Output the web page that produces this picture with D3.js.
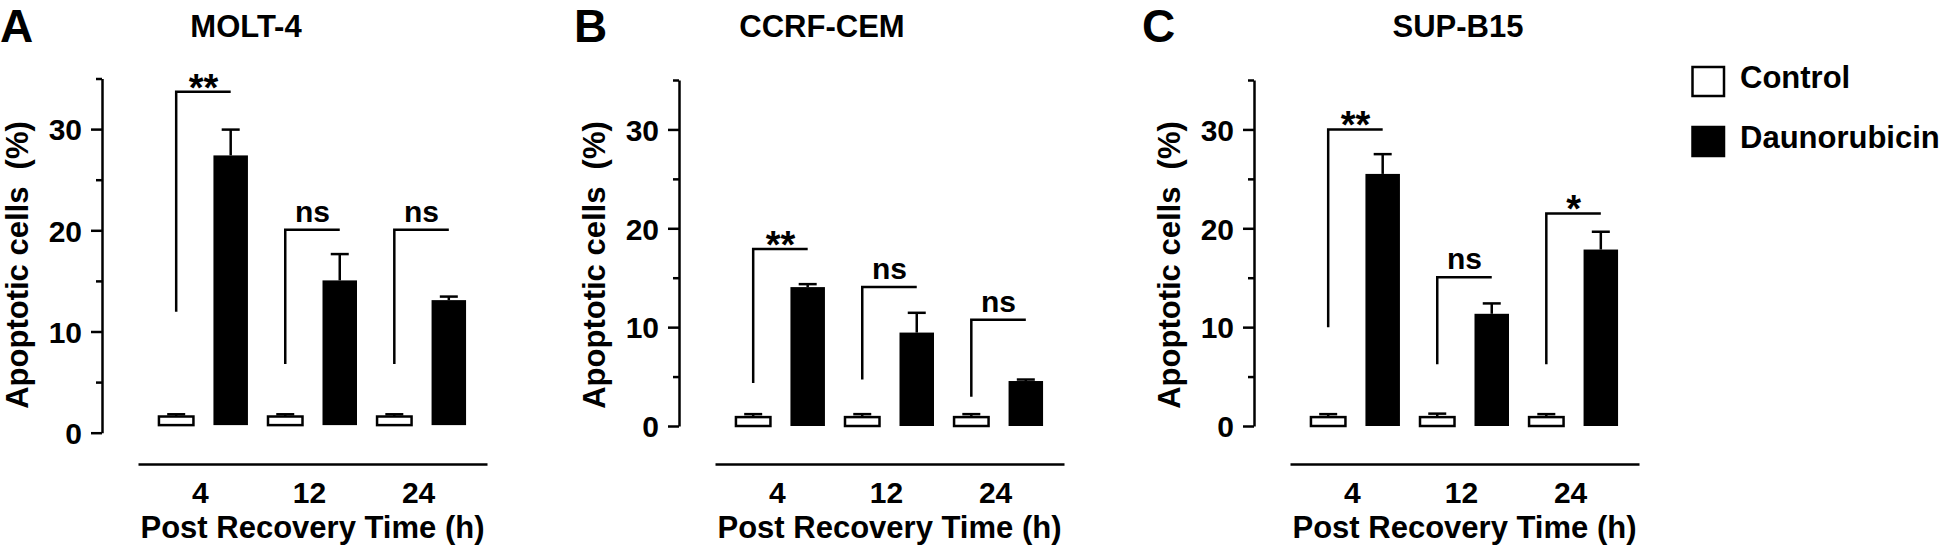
<!DOCTYPE html>
<html>
<head>
<meta charset="utf-8">
<title>Apoptotic cells after daunorubicin recovery</title>
<script src="https://d3js.org/d3.v7.min.js"></script>
<style>
  body { margin: 0; background: #fff; }
  svg { display: block; font-family: 'Liberation Sans', Arial, Helvetica, sans-serif; font-weight: bold; }
  .axis path, .axis line { stroke: #000; stroke-width: 2.5; }
  .axis text { font-family: 'Liberation Sans', Arial, sans-serif; font-weight: bold; font-size: 30px; fill: #000; }
</style>
</head>
<body>
<svg id="fig" width="1944" height="546"></svg>
<script>
// ---- data ----
const times = ["4", "12", "24"];
const series = ["Control", "Daunorubicin"];
const cellLines = ["MOLT-4", "CCRF-CEM", "SUP-B15"];
const panelLetters = ["A", "B", "C"];
const yMajorTicks = [0, 10, 20, 30];
const yMinorTicks = [5, 15, 25, 35];

// one row per panel, one value per time point
const controlMean = [[1.6, 1.6, 1.6], [0.9, 0.9, 0.9], [0.9, 0.9, 0.9]];
const controlErr  = [[0.22, 0.22, 0.22], [0.3, 0.3, 0.3], [0.3, 0.35, 0.3]];
const daunoMean   = [[27.4, 15.05, 13.1], [14.05, 9.45, 4.55], [25.5, 11.35, 17.85]];
const daunoErr    = [[2.55, 2.6, 0.35], [0.3, 2.0, 0.15], [2.0, 1.05, 1.8]];

// significance brackets: low end of the control leg, height of the bar, label
const bracketLow  = [[11.95, 6.8, 6.8], [4.35, 4.7, 2.95], [10.0, 6.25, 6.25]];
const bracketTop  = [[33.7, 20.05, 20.05], [17.9, 14.05, 10.75], [30.0, 15.05, 21.5]];
const bracketText = [["**", "ns", "ns"], ["**", "ns", "ns"], ["**", "ns", "*"]];

// bars in panel A sit a little above the zero tick
const barBase = [0.75, 0, 0];

// ---- layout ----
const panels = [
  { axisX: 102,  y0: 432.7, y35: 78.5, titleX: 246,  letterX: 0 },
  { axisX: 679,  y0: 426,   y35: 80,   titleX: 822,  letterX: 574 },
  { axisX: 1254, y0: 426,   y35: 80,   titleX: 1458, letterX: 1142 }
];
const barW = 34.5;
const capW = 18;
const lw = 2.5;

const svg = d3.select("#fig");

panels.forEach((p, pi) => {
  const g = svg.append("g").attr("transform", `translate(${p.axisX},0)`);

  const y = d3.scaleLinear().domain([0, 35]).range([p.y0, p.y35]);
  const x = d3.scaleBand().domain(times).range([36, 385]).paddingInner(0).paddingOuter(0.1);
  const off = d3.scalePoint().domain(series).range([-27.25, 27.25]);
  const cx = (t, s) => x(t) + x.bandwidth() / 2 + off(s);

  // y axis, major + minor ticks
  g.append("g").attr("class", "axis")
    .call(d3.axisLeft(y).tickValues(yMajorTicks).tickSize(11).tickSizeOuter(0).tickPadding(9))
    .call(a => a.selectAll("text").attr("dy", "0.36em"));
  g.append("g").attr("class", "axis")
    .call(d3.axisLeft(y).tickValues(yMinorTicks).tickSize(6).tickSizeOuter(0).tickFormat(""))
    .call(a => a.select(".domain").remove());

  // x axis: separate line under the plot, labels only
  g.append("g").attr("class", "axis")
    .attr("transform", "translate(0,464)")
    .call(d3.axisBottom(x).tickSize(0).tickSizeOuter(0).tickPadding(18))
    .call(a => a.selectAll("text").attr("dx", -3));

  // axis titles
  g.append("text")
    .attr("transform", "rotate(-90)")
    .attr("x", -265).attr("y", -74)
    .attr("text-anchor", "middle")
    .style("white-space", "pre")
    .attr("font-size", 31)
    .text("Apoptotic cells  (%)");

  g.append("text")
    .attr("x", 210.5).attr("y", 538)
    .attr("text-anchor", "middle")
    .attr("font-size", 31)
    .text("Post Recovery Time (h)");

  // panel title and letter
  svg.append("text")
    .attr("x", p.titleX).attr("y", 37)
    .attr("text-anchor", "middle")
    .attr("font-size", 31)
    .text(cellLines[pi]);
  svg.append("text")
    .attr("x", p.letterX).attr("y", 42)
    .attr("font-size", 46)
    .text(panelLetters[pi]);

  // bars
  const rows = times.map((t, i) => [
    { t, s: "Control", v: controlMean[pi][i], e: controlErr[pi][i] },
    { t, s: "Daunorubicin", v: daunoMean[pi][i], e: daunoErr[pi][i] }
  ]).flat();

  const base = y(barBase[pi]);

  // error bars (upper only) drawn first, bars cover the lower end
  const eb = g.selectAll(".err").data(rows).join("g").attr("class", "err")
    .attr("stroke", "#000").attr("stroke-width", lw);
  eb.append("line")
    .attr("x1", d => cx(d.t, d.s)).attr("x2", d => cx(d.t, d.s))
    .attr("y1", d => y(d.v)).attr("y2", d => y(d.v + d.e));
  eb.append("line")
    .attr("x1", d => cx(d.t, d.s) - capW / 2).attr("x2", d => cx(d.t, d.s) + capW / 2)
    .attr("y1", d => y(d.v + d.e)).attr("y2", d => y(d.v + d.e));

  g.selectAll(".bar").data(rows).join("rect").attr("class", "bar")
    .attr("x", d => cx(d.t, d.s) - barW / 2)
    .attr("width", barW)
    .attr("y", d => y(d.v))
    .attr("height", d => base - y(d.v))
    .attr("fill", d => d.s === "Control" ? "#fff" : "#000")
    .attr("stroke", d => d.s === "Control" ? "#000" : "none")
    .attr("stroke-width", lw);

  // significance brackets
  times.forEach((t, i) => {
    const xa = cx(t, "Control"), xb = cx(t, "Daunorubicin");
    const yl = y(bracketLow[pi][i]), yt = y(bracketTop[pi][i]);
    g.append("path")
      .attr("d", `M${xa},${yl}V${yt}H${xb}`)
      .attr("fill", "none").attr("stroke", "#000").attr("stroke-width", lw);
    const star = bracketText[pi][i] !== "ns";
    g.append("text")
      .attr("x", (xa + xb) / 2)
      .attr("y", star ? yt + 9 : yt - 8)
      .attr("text-anchor", "middle")
      .attr("font-size", star ? 38 : 30)
      .text(bracketText[pi][i]);
  });
});

// legend
const legend = svg.append("g");
series.forEach((s, i) => {
  const ly = 66 + i * 60;
  legend.append("rect")
    .attr("x", 1692.5).attr("y", ly + 1)
    .attr("width", 31.5).attr("height", 29)
    .attr("fill", s === "Control" ? "#fff" : "#000")
    .attr("stroke", "#000").attr("stroke-width", lw);
  legend.append("text")
    .attr("x", 1740).attr("y", ly + 22)
    .attr("font-size", 31)
    .text(s);
});
</script>
</body>
</html>
